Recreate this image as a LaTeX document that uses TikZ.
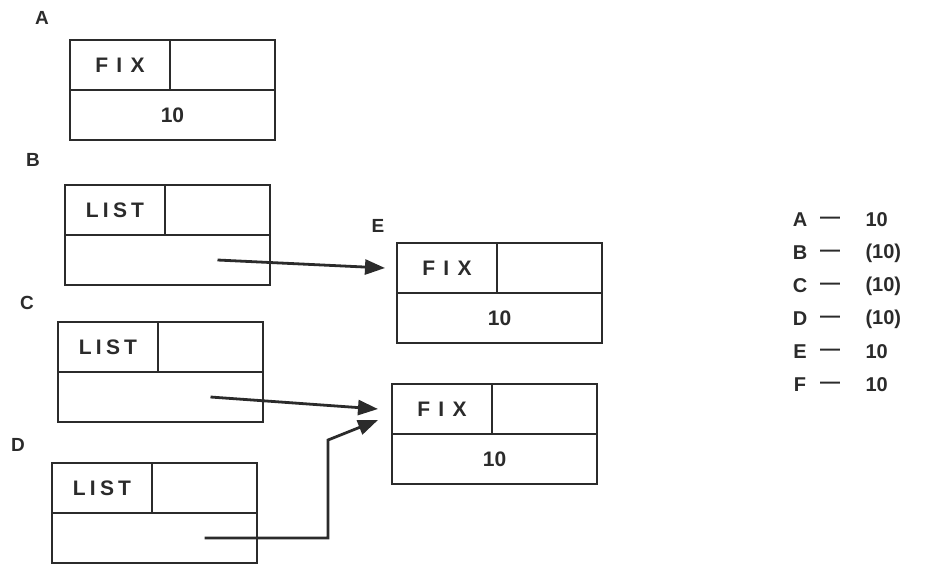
\documentclass[tikz,border=0pt]{standalone}
\usepackage{fontspec}
\setmainfont{Liberation Sans}
\usetikzlibrary{positioning,arrows.meta}
\definecolor{ink}{HTML}{2B2B2B}
\tikzset{
  cell/.style={draw=ink, line width=2.8pt, inner sep=0pt, outer sep=0pt,
    minimum height=50pt, text=ink, font=\fontsize{21}{24}\selectfont\bfseries},
  tagcell/.style={cell, minimum width=100pt},
  ptrcell/.style={cell, minimum width=105pt},
  valcell/.style={cell, minimum width=205pt},
  boxname/.style={text=ink, font=\fontsize{19}{22}\selectfont\bfseries},
  legend/.style={text=ink, font=\fontsize{20}{24}\selectfont\bfseries},
  link/.style={draw=ink, line width=2.8pt, -{Triangle[length=20pt,width=15pt]}},
}
\newcommand{\fixtag}{F\hspace{0.4em}I\hspace{0.4em}X}
\newcommand{\listtag}{L\hspace{0.2em}I\hspace{0.2em}S\hspace{0.2em}T}
\begin{document}
\begin{tikzpicture}[x=1pt,y=-1pt]
\useasboundingbox (0,0) rectangle (925,563);

% box A
\node[boxname] (nameA) at (42,18) {A};
\node[tagcell, anchor=north west] (Atag) at (70,40) {\fixtag};
\node[ptrcell, right=0pt of Atag] (Aptr) {};
\node[valcell, anchor=north west] (Aval) at (Atag.south west) {10};

% box B
\node[boxname] (nameB) at (33,160) {B};
\node[tagcell, anchor=north west] (Btag) at (65,185) {\listtag};
\node[ptrcell, right=0pt of Btag] (Bptr) {};
\node[valcell, anchor=north west] (Bval) at (Btag.south west) {};

% box C
\node[boxname] (nameC) at (27,303) {C};
\node[tagcell, anchor=north west] (Ctag) at (58,322) {\listtag};
\node[ptrcell, right=0pt of Ctag] (Cptr) {};
\node[valcell, anchor=north west] (Cval) at (Ctag.south west) {};

% box D
\node[boxname] (nameD) at (18,445) {D};
\node[tagcell, anchor=north west] (Dtag) at (52,463) {\listtag};
\node[ptrcell, right=0pt of Dtag] (Dptr) {};
\node[valcell, anchor=north west] (Dval) at (Dtag.south west) {};

% box E
\node[boxname] (nameE) at (378,226) {E};
\node[tagcell, anchor=north west] (Etag) at (397,243) {\fixtag};
\node[ptrcell, right=0pt of Etag] (Eptr) {};
\node[valcell, anchor=north west] (Eval) at (Etag.south west) {10};

% box F
\node[tagcell, anchor=north west] (Ftag) at (392,384) {\fixtag};
\node[ptrcell, right=0pt of Ftag] (Fptr) {};
\node[valcell, anchor=north west] (Fval) at (Ftag.south west) {10};

% pointers
\coordinate (Bp) at ([xshift=50pt]Bval.center);
\coordinate (Cp) at ([xshift=50pt]Cval.center);
\coordinate (Dp) at ([xshift=50pt]Dval.center);
\coordinate (Dbend) at (328,440);
\coordinate (Fin) at ([xshift=-14pt,yshift=-11pt]Ftag.west);
\path[link] (Bp) -- ([xshift=-12pt]Etag.west);
\path[link] (Cp) -- ([xshift=-14pt]Ftag.west);
\path[link] (Dp) -| (Dbend) -- (Fin);

% values
\foreach \n/\v [count=\i] in {A/10, B/(10), C/(10), D/(10), E/10, F/10} {
  \node[legend] (key\n) at (800,187+33*\i) {\n};
  \node[legend] (dash\n) at (830,187+33*\i) {---};
  \node[legend, anchor=west] (val\n) at (862,187+33*\i) {\v};
}
\end{tikzpicture}
\end{document}
